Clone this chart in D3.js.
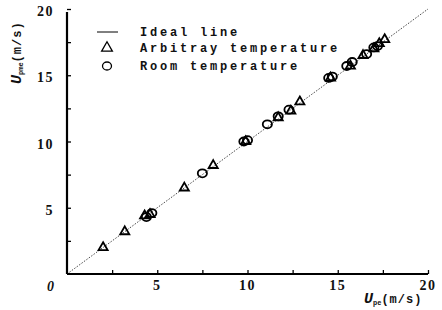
<!DOCTYPE html>
<html>
<head>
<meta charset="utf-8">
<script src="https://cdn.jsdelivr.net/npm/d3@7"></script>
<style>
  body { margin: 0; background: #fff; }
  svg text { font-family: "Liberation Mono", "DejaVu Sans Mono", monospace; font-weight: bold; fill: #111; }
  svg text.num { font-family: "Liberation Serif", "DejaVu Serif", serif; }
</style>
</head>
<body>
<div id="chart"></div>
<script>
// --- Data ---
const majorTicks = [5, 10, 15, 20];
const minorTicks = [2.5, 7.5, 12.5, 17.5];

// Arbitrary temperature (triangles)
const triX = [2.0, 3.2, 4.3, 4.6, 6.5, 8.1, 9.9, 11.7, 12.4, 12.9, 14.6, 15.7, 16.4, 17.0, 17.3, 17.6];
const triY = [2.0, 3.2, 4.4, 4.5, 6.5, 8.2, 10.0, 11.8, 12.3, 13.0, 14.8, 15.7, 16.5, 17.0, 17.4, 17.7];

// Room temperature (circles)
const cirX = [4.4, 4.7, 7.5, 9.8, 10.0, 11.1, 11.7, 12.3, 14.5, 14.7, 15.5, 15.8, 16.6, 17.0, 17.2];
const cirY = [4.3, 4.6, 7.6, 10.0, 10.1, 11.3, 11.9, 12.4, 14.8, 14.9, 15.7, 16.0, 16.6, 17.1, 17.2];

const legendLabels = ["Ideal line", "Arbitray temperature", "Room temperature"];

// --- Dimensions ---
const width = 442, height = 310;
const x0 = 67, x1 = 428, y0 = 274, y1 = 9;

const svg = d3.select("#chart")
  .append("svg")
  .attr("width", width)
  .attr("height", height);

// --- Scales ---
const xScale = d3.scaleLinear().domain([0, 20]).range([x0, x1]);
const yScale = d3.scaleLinear().domain([0, 20]).range([y0, y1]);

// --- Ideal line ---
svg.append("line")
  .attr("x1", xScale(0)).attr("y1", yScale(0))
  .attr("x2", xScale(20)).attr("y2", yScale(20))
  .attr("stroke", "#333")
  .attr("stroke-width", 0.9)
  .attr("stroke-dasharray", "1.5,1.5");

// --- Axes (ticks point inward) ---
const xAxis = svg.append("g")
  .attr("transform", `translate(0,${y0})`)
  .call(d3.axisTop(xScale).tickValues(majorTicks.concat(minorTicks)).tickSize(4).tickFormat(""));
const yAxis = svg.append("g")
  .attr("transform", `translate(${x0},0)`)
  .call(d3.axisRight(yScale).tickValues(majorTicks.concat(minorTicks)).tickSize(4).tickFormat(""));

[xAxis, yAxis].forEach(g => {
  g.select(".domain").attr("stroke", "#000").attr("stroke-width", 2.2);
  g.selectAll(".tick line").attr("stroke", "#000").attr("stroke-width", 1.3);
});
xAxis.select(".domain").attr("d", `M0,0H${x1 - x0}`).attr("transform", `translate(${x0},0)`);
yAxis.select(".domain").attr("d", `M0,${y0}V${y1 + 3}`);

// tick labels
svg.selectAll(".xlab")
  .data(majorTicks)
  .enter()
  .append("text")
  .attr("class", "xlab num")
  .attr("x", d => xScale(d))
  .attr("y", y0 + 16)
  .attr("text-anchor", "middle")
  .style("font-size", "14px")
  .style("letter-spacing", "1.5px")
  .text(d => d);

svg.selectAll(".ylab")
  .data(majorTicks)
  .enter()
  .append("text")
  .attr("class", "ylab num")
  .attr("x", x0 - 13)
  .attr("y", d => yScale(d) + 7)
  .attr("text-anchor", "end")
  .style("font-size", "14px")
  .style("letter-spacing", "1.5px")
  .text(d => d);

svg.append("text")
  .attr("class", "num")
  .attr("x", x0 - 13)
  .attr("y", y0 + 17)
  .attr("text-anchor", "end")
  .style("font-size", "14px")
  .style("font-style", "italic")
  .text("0");

// --- Axis titles ---
const xt = svg.append("text")
  .attr("x", 364)
  .attr("y", 303)
  .style("font-size", "12px");
xt.append("tspan").attr("class", "num").style("font-style", "italic").style("font-size", "15px").text("U");
xt.append("tspan").attr("dy", 2).style("font-size", "7px").text("pe");
xt.append("tspan").attr("dy", -2).style("letter-spacing", "1px").text("(m/s)");

const yt = svg.append("text")
  .attr("transform", "translate(21,84) rotate(-90)")
  .style("font-size", "12px");
yt.append("tspan").attr("class", "num").style("font-style", "italic").style("font-size", "15px").text("U");
yt.append("tspan").attr("dy", 2).style("font-size", "7px").text("pme");
yt.append("tspan").attr("dy", -2).style("letter-spacing", "1px").text("(m/s)");

// --- Markers ---
const triSym = d3.symbol().type(d3.symbolTriangle).size(36);

svg.selectAll(".cir")
  .data(d3.range(cirX.length))
  .enter()
  .append("ellipse")
  .attr("class", "cir")
  .attr("cx", i => xScale(cirX[i]))
  .attr("cy", i => yScale(cirY[i]))
  .attr("rx", 4.6)
  .attr("ry", 4)
  .attr("fill", "none")
  .attr("stroke", "#000")
  .attr("stroke-width", 1.8);

svg.selectAll(".tri")
  .data(d3.range(triX.length))
  .enter()
  .append("path")
  .attr("class", "tri")
  .attr("d", triSym)
  .attr("transform", i => `translate(${xScale(triX[i])},${yScale(triY[i])})`)
  .attr("fill", "none")
  .attr("stroke", "#000")
  .attr("stroke-width", 1.8);

// --- Legend ---
const legY = [32, 48, 66];
const legend = svg.selectAll(".legend")
  .data(legendLabels)
  .enter()
  .append("g")
  .attr("class", "legend")
  .attr("transform", (d, i) => `translate(0,${legY[i]})`);

legend.append("text")
  .attr("x", 140)
  .attr("y", 4)
  .style("font-size", "12px")
  .style("letter-spacing", "2.8px")
  .text(d => d);

svg.append("line")
  .attr("x1", 97).attr("x2", 118)
  .attr("y1", legY[0]).attr("y2", legY[0])
  .attr("stroke", "#000").attr("stroke-width", 1);

svg.append("path")
  .attr("d", d3.symbol().type(d3.symbolTriangle).size(50))
  .attr("transform", `translate(107,${legY[1]})`)
  .attr("fill", "none").attr("stroke", "#000").attr("stroke-width", 1.3);

svg.append("ellipse")
  .attr("cx", 107).attr("cy", legY[2])
  .attr("rx", 4.5).attr("ry", 4)
  .attr("fill", "none").attr("stroke", "#000").attr("stroke-width", 1.3);
</script>
</body>
</html>
